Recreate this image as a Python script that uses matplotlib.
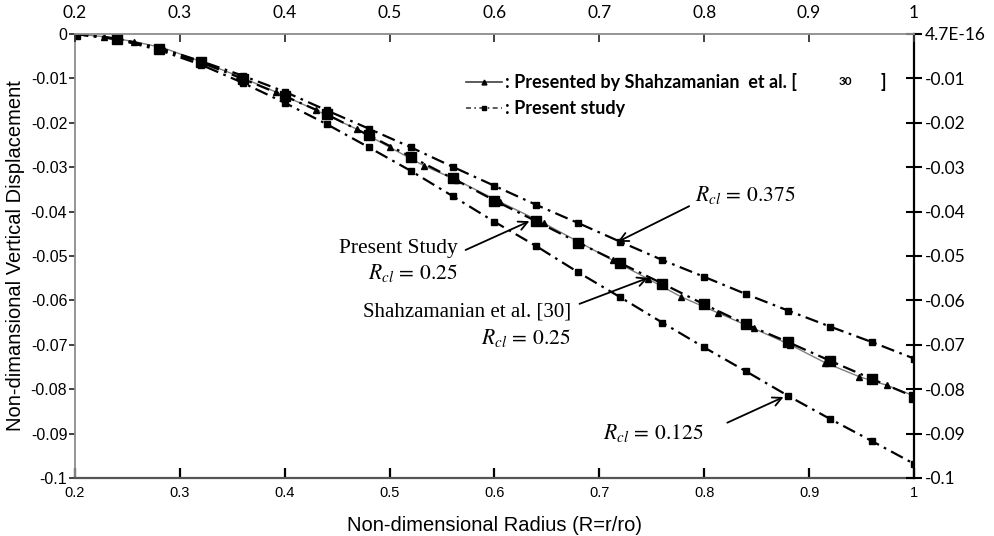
import matplotlib
matplotlib.use("Agg")
import matplotlib.pyplot as plt

plt.rcParams['mathtext.fontset'] = 'stix'

# radius positions of the "present study" square markers
radius = [0.2, 0.24, 0.28, 0.32, 0.36, 0.40, 0.44, 0.48, 0.52, 0.56, 0.60,
          0.64, 0.68, 0.72, 0.76, 0.80, 0.84, 0.88, 0.92, 0.96, 1.00]

# present study, Rcl = 0.125
disp_0125 = [0, -0.0012, -0.0036, -0.0069, -0.0110, -0.0155, -0.0203, -0.0255,
             -0.0308, -0.0365, -0.0423, -0.0478, -0.0537, -0.0593, -0.0650,
             -0.0706, -0.0760, -0.0815, -0.0867, -0.0917, -0.0968]
# present study, Rcl = 0.25
disp_025 = [0, -0.0011, -0.0033, -0.0064, -0.0101, -0.0140, -0.0181, -0.0228,
            -0.0276, -0.0325, -0.0375, -0.0422, -0.0470, -0.0516, -0.0562,
            -0.0609, -0.0654, -0.0694, -0.0736, -0.0777, -0.0817]
# present study, Rcl = 0.375
disp_0375 = [0, -0.0010, -0.0031, -0.0061, -0.0094, -0.0130, -0.0172, -0.0213,
             -0.0255, -0.0299, -0.0342, -0.0385, -0.0426, -0.0468, -0.0509,
             -0.0547, -0.0586, -0.0623, -0.0659, -0.0694, -0.0731]

# Shahzamanian et al. [30], Rcl = 0.25
radius_ref = [0.2, 0.228, 0.256, 0.284, 0.32, 0.356, 0.392, 0.43, 0.4685, 0.5,
              0.533, 0.564, 0.605, 0.647, 0.68, 0.713, 0.746, 0.778, 0.813,
              0.847, 0.882, 0.915, 0.948, 0.974, 1.0]
disp_ref = [0, -0.0006, -0.0017, -0.0031, -0.0062, -0.0095, -0.0131, -0.0172,
            -0.0214, -0.0255, -0.0297, -0.0329, -0.0378, -0.0426, -0.0468,
            -0.0510, -0.0551, -0.0592, -0.0628, -0.0663, -0.0700, -0.0740,
            -0.0772, -0.0791, -0.0815]

x_ticks = [0.2, 0.3, 0.4, 0.5, 0.6, 0.7, 0.8, 0.9, 1.0]
x_labels = ['0.2', '0.3', '0.4', '0.5', '0.6', '0.7', '0.8', '0.9', '1']
y_ticks = [0, -0.01, -0.02, -0.03, -0.04, -0.05, -0.06, -0.07, -0.08, -0.09, -0.1]
y_labels_left = ['0', '-0.01', '-0.02', '-0.03', '-0.04', '-0.05', '-0.06',
                 '-0.07', '-0.08', '-0.09', '-0.1']
y_labels_right = ['4.7E-16'] + y_labels_left[1:]

sans = 'Liberation Sans'
calib = 'Lato'
serif = 'Liberation Serif'

fig = plt.figure(figsize=(9.95, 5.36), dpi=100)
ax = fig.add_axes([75/995, 1-478/536, 839/995, 444/536])

dashdot = (0, (6, 2.5, 1.2, 2.5))
ax.plot(radius_ref, disp_ref, '-', color='#808080', lw=1.0, zorder=3)
ax.plot(radius_ref, disp_ref, '^', color='black', ms=5, zorder=5)
ax.plot(radius, disp_0125, color='black', lw=1.6, linestyle=dashdot,
        marker='s', ms=5, zorder=4)
ax.plot(radius, disp_025, color='black', lw=1.6, linestyle=dashdot,
        marker='s', ms=7.5, zorder=4)
ax.plot(radius, disp_0375, color='black', lw=1.6, linestyle=dashdot,
        marker='s', ms=5, zorder=4)

ax.set_xlim(0.2, 1.0)
ax.set_ylim(-0.1, 0)
ax.set_xticks(x_ticks)
ax.set_xticklabels(x_labels, fontfamily=sans, fontsize=10.5)
ax.set_yticks(y_ticks)
ax.set_yticklabels(y_labels_left, fontfamily=sans, fontsize=11.5)
ax.tick_params(axis='x', direction='in', length=7, width=1.6, color='black', pad=6)
ax.tick_params(axis='y', direction='out', length=4, width=1.3, color='#333333', pad=1.5)
for side in ['top', 'right']:
    ax.spines[side].set_visible(False)
ax.spines['left'].set_color('#8c8c8c')
ax.spines['left'].set_linewidth(1.3)
ax.spines['bottom'].set_color('#555555')
ax.spines['bottom'].set_linewidth(1.6)

# right axis
axr = ax.twinx()
axr.set_ylim(-0.1, 0)
axr.set_yticks(y_ticks)
axr.set_yticklabels(y_labels_right, fontfamily=calib, fontsize=12.5)
axr.tick_params(axis='y', direction='inout', length=12, width=1.5, color='black', pad=2)
for side in ['top', 'left', 'bottom']:
    axr.spines[side].set_visible(False)
axr.spines['right'].set_color('black')
axr.spines['right'].set_linewidth(1.6)

# top axis
axt = ax.twiny()
axt.set_xlim(0.2, 1.0)
axt.set_xticks(x_ticks)
axt.set_xticklabels(x_labels, fontfamily=calib, fontsize=12.5)
axt.tick_params(axis='x', direction='in', length=6, width=1.3, color='#333333', pad=9)
for side in ['right', 'left', 'bottom']:
    axt.spines[side].set_visible(False)
axt.spines['top'].set_color('#8c8c8c')
axt.spines['top'].set_linewidth(1.3)

ax.set_xlabel('Non-dimensional Radius (R=r/ro)', fontfamily=sans, fontsize=14.5, labelpad=11)
ax.set_ylabel('Non-dimansional Vertical Displacement', fontfamily=sans, fontsize=14.5, labelpad=4)

# legend drawn by hand
tr = ax.transAxes
ax.plot([0.466, 0.509], [0.892, 0.892], '-', color='#404040', lw=1.2, transform=tr, clip_on=False)
ax.plot([0.4875], [0.892], '^', color='black', ms=3.5, transform=tr, clip_on=False)
ax.text(0.5125, 0.892, ': Presented by Shahzamanian  et al. [', transform=tr,
        fontfamily=calib, fontweight='bold', fontsize=13, va='center', ha='left')
ax.text(0.918, 0.892, '30', transform=tr, fontfamily=calib, fontweight='bold',
        fontsize=8.5, va='center', ha='center')
ax.text(0.963, 0.892, ']', transform=tr, fontfamily=calib, fontweight='bold',
        fontsize=13, va='center', ha='center')
ax.plot([0.466, 0.509], [0.833, 0.833], color='#404040', lw=1.2, linestyle=(0, (3, 2, 1, 2)),
        transform=tr, clip_on=False)
ax.plot([0.4875], [0.833], 's', color='black', ms=3.5, transform=tr, clip_on=False)
ax.text(0.5125, 0.833, ': Present study', transform=tr, fontfamily=calib,
        fontweight='bold', fontsize=13, va='center', ha='left')

# annotations
arrow = dict(arrowstyle='->', color='black', lw=1.3, mutation_scale=16)
ax.text(0.791, -0.0363, r'$R_{cl}\,=\,0.375$', fontsize=15.5, ha='left', va='center')
ax.annotate('', xy=(0.715, -0.0471), xytext=(0.788, -0.0385), arrowprops=arrow)

ax.text(0.565, -0.0484, 'Present Study', fontfamily=serif, fontsize=15.5, ha='right', va='center')
ax.text(0.565, -0.0538, r'$R_{cl}\,=\,0.25$', fontsize=15.5, ha='right', va='center')
ax.annotate('', xy=(0.6357, -0.0419), xytext=(0.570, -0.0489), arrowprops=arrow)

ax.text(0.673, -0.0626, 'Shahzamanian et al. [30]', fontfamily=serif, fontsize=15,
        ha='right', va='center')
ax.text(0.673, -0.0685, r'$R_{cl}\,=\,0.25$', fontsize=15.5, ha='right', va='center')
ax.annotate('', xy=(0.749, -0.0547), xytext=(0.6786, -0.0610), arrowprops=arrow)

ax.text(0.703, -0.0899, r'$R_{cl}\,=\,0.125$', fontsize=15.5, ha='left', va='center')
ax.annotate('', xy=(0.878, -0.0815), xytext=(0.8196, -0.0878), arrowprops=arrow)

fig.savefig('out.png', dpi=100)
